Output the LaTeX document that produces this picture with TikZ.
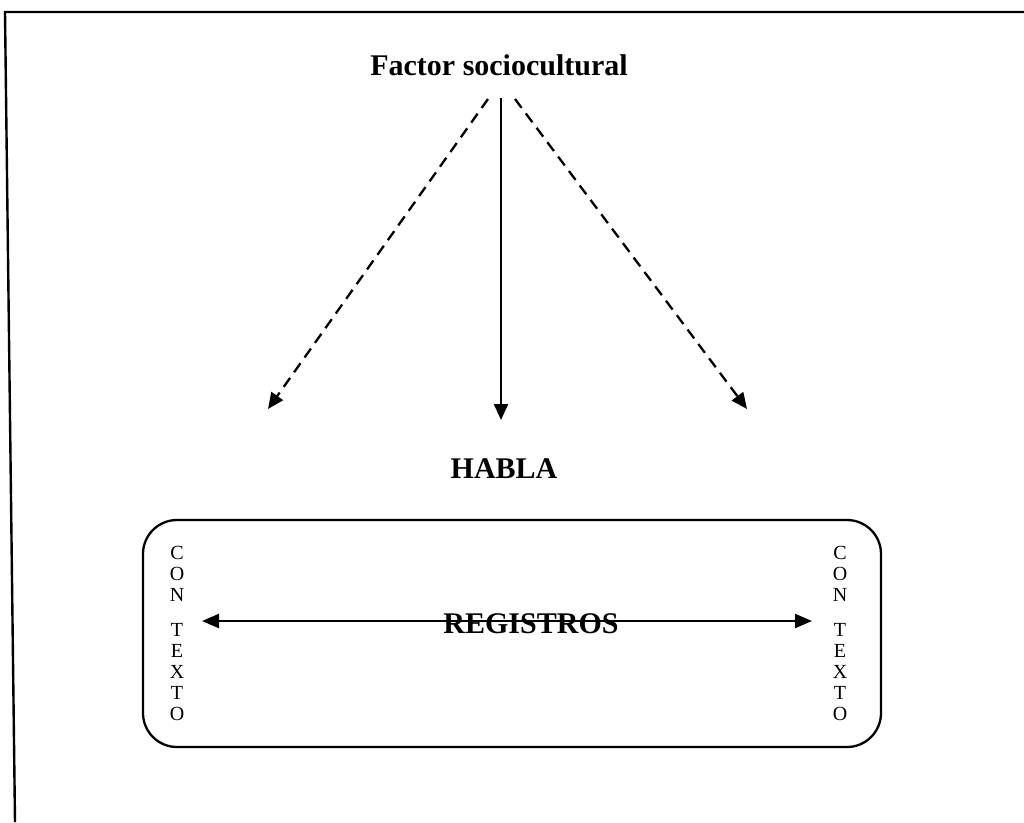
\documentclass[tikz,border=0pt]{standalone}
\usepackage{fontspec}
\setmainfont{Liberation Serif}
\usetikzlibrary{arrows.meta}
\tikzset{
  frameline/.style={line width=2.4pt, black},
  conn/.style={line width=2.3pt, -{Triangle[length=16pt,width=14pt]}},
  dashconn/.style={conn, dash pattern=on 11pt off 7pt},
  biconn/.style={line width=2.3pt, {Triangle[length=17pt,width=14pt]}-{Triangle[length=17pt,width=14pt]}},
  title/.style={font=\fontsize{30}{36}\selectfont\bfseries, inner sep=0pt, anchor=base},
  vert/.style={font=\fontsize{20}{21}\selectfont, align=center, inner sep=0pt, anchor=north},
}
\begin{document}
\begin{tikzpicture}[x=1pt,y=-1pt]
\useasboundingbox (0,0) rectangle (1024,822);
% outer frame (top and left edges)
\coordinate (ftl) at (5,12);
\coordinate (ftr) at (1024,12);
\coordinate (fbl) at (15,822);
\draw[frameline] (ftr) -- (ftl) -- (fbl);

\node[title] (factor) at (499,75) {Factor sociocultural};
\node[title] (habla) at (504,478) {HABLA};

\node[draw, line width=2.3pt, rounded corners=34pt, minimum width=738pt, minimum height=227pt, inner sep=0pt] (box) at (512,633.5) {};

\node[vert] (ctxl) at (177,546) {C\\O\\N\\[14pt]T\\E\\X\\T\\O};
\node[vert] (ctxr) at (840,546) {C\\O\\N\\[14pt]T\\E\\X\\T\\O};

\node[title] (reg) at (531,633) {REGISTROS};

% top connectors
\coordinate (s1) at (488,99);
\coordinate (s2) at (501,98);
\coordinate (s3) at (515,99);
\coordinate (t1) at (268,409);
\coordinate (t2) at (501,420);
\coordinate (t3) at (747,409);
\draw[dashconn] (s1) -- (t1);
\draw[conn] (s2) -- (t2);
\draw[dashconn] (s3) -- (t3);

% double arrow
\coordinate (al) at (202,621);
\coordinate (ar) at (812,621);
\draw[biconn] (al) -- (ar);
\end{tikzpicture}
\end{document}
